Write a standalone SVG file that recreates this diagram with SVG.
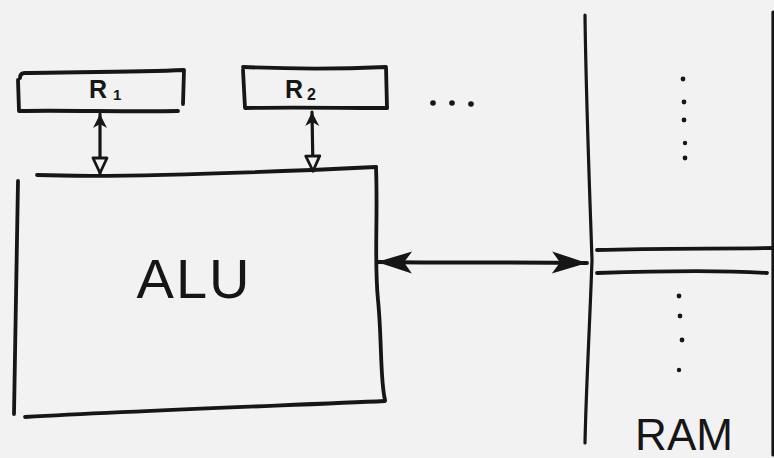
<svg xmlns="http://www.w3.org/2000/svg" width="774" height="458" viewBox="0 0 774 458">
  <style>
    .ink { fill: none; stroke: #161616; stroke-width: 3.8; stroke-linecap: round; stroke-linejoin: round; }
    .thin { fill: none; stroke: #161616; stroke-width: 3.2; stroke-linecap: round; }
    .dot { fill: #161616; }
    .lbl { font-family: "Liberation Sans", Arial, sans-serif; fill: #161616; }
  </style>
  <defs>
    <!-- filled barbed head for the data bus -->
    <marker id="barb" markerUnits="userSpaceOnUse" markerWidth="40" markerHeight="30" refX="36" refY="12" orient="auto-start-reverse" viewBox="0 0 40 24">
      <path d="M36,12 L1,1 L9,12 L1,23 Z" fill="#161616"/>
    </marker>
    <!-- small solid chevron head -->
    <marker id="chev" markerUnits="userSpaceOnUse" markerWidth="18" markerHeight="18" refX="15" refY="8" orient="auto-start-reverse" viewBox="0 0 18 16">
      <path d="M15,8 L1,1 L5,8 L1,15 Z" fill="#161616"/>
    </marker>
    <!-- open triangle head -->
    <marker id="tri" markerUnits="userSpaceOnUse" markerWidth="20" markerHeight="20" refX="17" refY="9" orient="auto" viewBox="0 0 20 18">
      <path d="M17,9 L2,2 L2,16 Z" fill="#f2f2f2" stroke="#161616" stroke-width="2.8" stroke-linejoin="round"/>
    </marker>
  </defs>

  <rect width="774" height="458" fill="#f2f2f2"/>

  <!-- register R1 -->
  <g id="r1">
    <path class="ink" d="M20,78 Q20,73 25,73 C80,72 140,72 184,70 L183,104"/>
    <path class="ink" d="M178,111 C130,112 60,110 19,111 L18,80"/>
    <text class="lbl" x="89" y="98" font-size="25" font-weight="bold">R<tspan font-size="15" dx="6" dy="2">1</tspan></text>
  </g>

  <!-- register R2 -->
  <g id="r2">
    <path class="ink" d="M243,67 C290,69 340,69 386,67 L387,108"/>
    <path class="ink" d="M387,108 C340,108 290,107 245,108 L243,70"/>
    <text class="lbl" x="285" y="98" font-size="25" font-weight="bold">R<tspan font-size="16" dx="4" dy="2">2</tspan></text>
  </g>

  <!-- further registers -->
  <g id="more">
    <circle class="dot" cx="433" cy="103" r="2.8"/>
    <circle class="dot" cx="452" cy="103" r="2.8"/>
    <circle class="dot" cx="471" cy="104" r="2.8"/>
  </g>

  <!-- arithmetic logic unit -->
  <g id="alu">
    <path class="ink" d="M37,175 C120,178 250,173 376,167"/>
    <path class="ink" d="M376,167 C378,220 374,260 378,300 C382,340 380,380 385,400"/>
    <path class="ink" d="M385,401 C300,405 150,410 25,417"/>
    <path class="ink" d="M18,181 C17,250 16,330 14,414"/>
    <text class="lbl" x="194" y="298" font-size="56" text-anchor="middle" letter-spacing="2">ALU</text>
  </g>

  <!-- main memory -->
  <g id="ram">
    <path class="thin" d="M585,15 C586,100 590,200 592,260 C590,320 586,390 585,443"/>
    <path class="thin" d="M773,12 L773,455"/>
    <path class="ink" d="M597,250 C660,248 720,249 774,248"/>
    <path class="ink" d="M597,273 C660,271 720,270 767,273"/>
    <circle class="dot" cx="683" cy="79" r="2.4"/>
    <circle class="dot" cx="684" cy="102" r="2.4"/>
    <circle class="dot" cx="684" cy="120" r="2.4"/>
    <circle class="dot" cx="685" cy="143" r="2.2"/>
    <circle class="dot" cx="685" cy="158" r="2.4"/>
    <circle class="dot" cx="679" cy="296" r="2.4"/>
    <circle class="dot" cx="680" cy="316" r="2.4"/>
    <circle class="dot" cx="682" cy="340" r="2.4"/>
    <circle class="dot" cx="679" cy="370" r="2.2"/>
    <text class="lbl" x="684" y="450" font-size="44" text-anchor="middle">RAM</text>
  </g>

  <!-- connectors -->
  <g id="connectors">
    <path class="thin" d="M100,114 L100,173" marker-start="url(#chev)" marker-end="url(#tri)"/>
    <path class="thin" d="M312,112 L313,171" marker-start="url(#chev)" marker-end="url(#tri)"/>
    <path class="ink" d="M377,262 C450,263 520,262 587,263" marker-start="url(#barb)" marker-end="url(#barb)"/>
  </g>
</svg>
